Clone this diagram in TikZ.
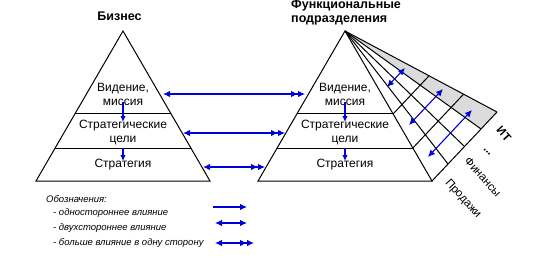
\documentclass[tikz,border=0pt]{standalone}
\usepackage{fontspec}
\setmainfont{Liberation Sans}
\usetikzlibrary{arrows.meta,calc}
\begin{document}
\begin{tikzpicture}[x=1pt,y=-1pt,
  edge/.style={draw=black,line width=1pt},
  link/.style={draw=blue!85!black,line width=1.1pt},
  hd/.tip={Latex[length=7pt,width=6.5pt]},
  hdd/.tip={Latex[length=7pt,width=6.5pt]Latex[length=7pt,width=6.5pt]},
  sm/.tip={Latex[length=6pt,width=5.5pt]},
  lvl/.style={font=\fontsize{12}{14}\selectfont,align=center,inner sep=0pt},
  ttl/.style={font=\fontsize{12.5}{13.5}\selectfont\bfseries,inner sep=0pt},
  leg/.style={font=\fontsize{9.5}{11}\selectfont\itshape,anchor=west,inner sep=0pt},
  fn/.style={font=\fontsize{11.5}{13}\selectfont,rotate=-48,inner sep=0pt}]
\useasboundingbox (0,0) rectangle (545,260);

% ---- left pyramid: business ----
\coordinate (LA) at (123,31);
\coordinate (LL) at (36,181);
\coordinate (LR) at (210,181);
\draw[edge] (LA) -- (LL) -- (LR) -- cycle;
\draw[edge] ($(LA)!0.553!(LL)$) -- ($(LA)!0.553!(LR)$);
\draw[edge] ($(LA)!0.78!(LL)$) -- ($(LA)!0.78!(LR)$);
\node[ttl] (biz) at (119.5,16) {Бизнес};
\node[lvl] (lv1) at (123,94) {Видение,\\миссия};
\node[lvl] (lv2) at (123,133) {Стратегические\\цели};
\node[lvl] (lv3) at (123,165) {Стратегия};

% ---- right pyramid: functional units ----
\coordinate (RA) at (345,31);
\coordinate (RL) at (258,181);
\coordinate (RR) at (432,181);
% side face split into function strips
\coordinate (F1) at (448,164);
\coordinate (F2) at (464.5,146.5);
\coordinate (F3) at (481,129);
\coordinate (F4) at (497,112);
\fill[gray!28] (RA) -- (F3) -- (F4) -- cycle;
\draw[edge] (RA) -- (RL) -- (RR) -- cycle;
\draw[edge] ($(RA)!0.553!(RL)$) -- ($(RA)!0.553!(RR)$);
\draw[edge] ($(RA)!0.78!(RL)$) -- ($(RA)!0.78!(RR)$);
\foreach \f in {F1,F2,F3,F4} \draw[edge] (RA) -- (\f);
\draw[edge] (RR) -- (F4);
\draw[edge] ($(RA)!0.553!(RR)$) -- ($(RA)!0.553!(F4)$);
\draw[edge] ($(RA)!0.78!(RR)$) -- ($(RA)!0.78!(F4)$);
\node[ttl,anchor=west,align=left] (fun) at (291,12.5) {Функциональные\\подразделения};
\node[lvl] (rv1) at (345,94) {Видение,\\миссия};
\node[lvl] (rv2) at (345,133) {Стратегические\\цели};
\node[lvl] (rv3) at (345,165) {Стратегия};

% function labels
\node[fn] (sales) at (463,199) {Продажи};
\node[fn] (fin) at (483,177) {Финансы};
\node[fn,font=\fontsize{11.5}{13}\selectfont\bfseries] (dots) at (487,152) {...};
\node[fn,font=\fontsize{11.5}{13}\selectfont\bfseries] (it) at (504,134) {ИТ};

% ---- influences inside the pyramids ----
\coordinate (la1) at (123,102); \coordinate (lb1) at (123,122);
\coordinate (la2) at (123,148); \coordinate (lb2) at (123,161);
\coordinate (ra1) at (345,102); \coordinate (rb1) at (345,122);
\coordinate (ra2) at (345,148); \coordinate (rb2) at (345,161);
\draw[link,-{sm}] (la1) -- (lb1);
\draw[link,-{sm}] (la2) -- (lb2);
\draw[link,-{sm}] (ra1) -- (rb1);
\draw[link,-{sm}] (ra2) -- (rb2);

% ---- influences between business and units ----
\coordinate (h1a) at (163,94);  \coordinate (h1b) at (305,94);
\coordinate (h2a) at (183,133); \coordinate (h2b) at (285,133);
\coordinate (h3a) at (203,167); \coordinate (h3b) at (265,167);
\draw[link,{hd}-{hdd}] (h1a) -- (h1b);
\draw[link,{hd}-{hdd}] (h2a) -- (h2b);
\draw[link,{hd}-{hdd}] (h3a) -- (h3b);

% ---- influences across functions ----
\coordinate (c1a) at (387,87);  \coordinate (c1b) at (405,68);
\coordinate (c2a) at (409,125); \coordinate (c2b) at (443,89);
\coordinate (c3a) at (428,157); \coordinate (c3b) at (472,110);
\draw[link,{hd}-{hd}] (c1a) -- (c1b);
\draw[link,{hd}-{hd}] (c2a) -- (c2b);
\draw[link,{hd}-{hd}] (c3a) -- (c3b);

% ---- legend ----
\node[leg] (lg0) at (46,199) {Обозначения:};
\node[leg] (lg1) at (53,213) {- одностороннее влияние};
\node[leg] (lg2) at (53,228) {- двухстороннее влияние};
\node[leg] (lg3) at (53,243) {- больше влияние в одну сторону};
\coordinate (k1a) at (213,207); \coordinate (k1b) at (247,207);
\coordinate (k2a) at (215,223); \coordinate (k2b) at (247,223);
\coordinate (k3a) at (215,243); \coordinate (k3b) at (254,243);
\draw[link,-{hd}] (k1a) -- (k1b);
\draw[link,{hd}-{hd}] (k2a) -- (k2b);
\draw[link,{hd}-{hdd}] (k3a) -- (k3b);
\end{tikzpicture}
\end{document}
